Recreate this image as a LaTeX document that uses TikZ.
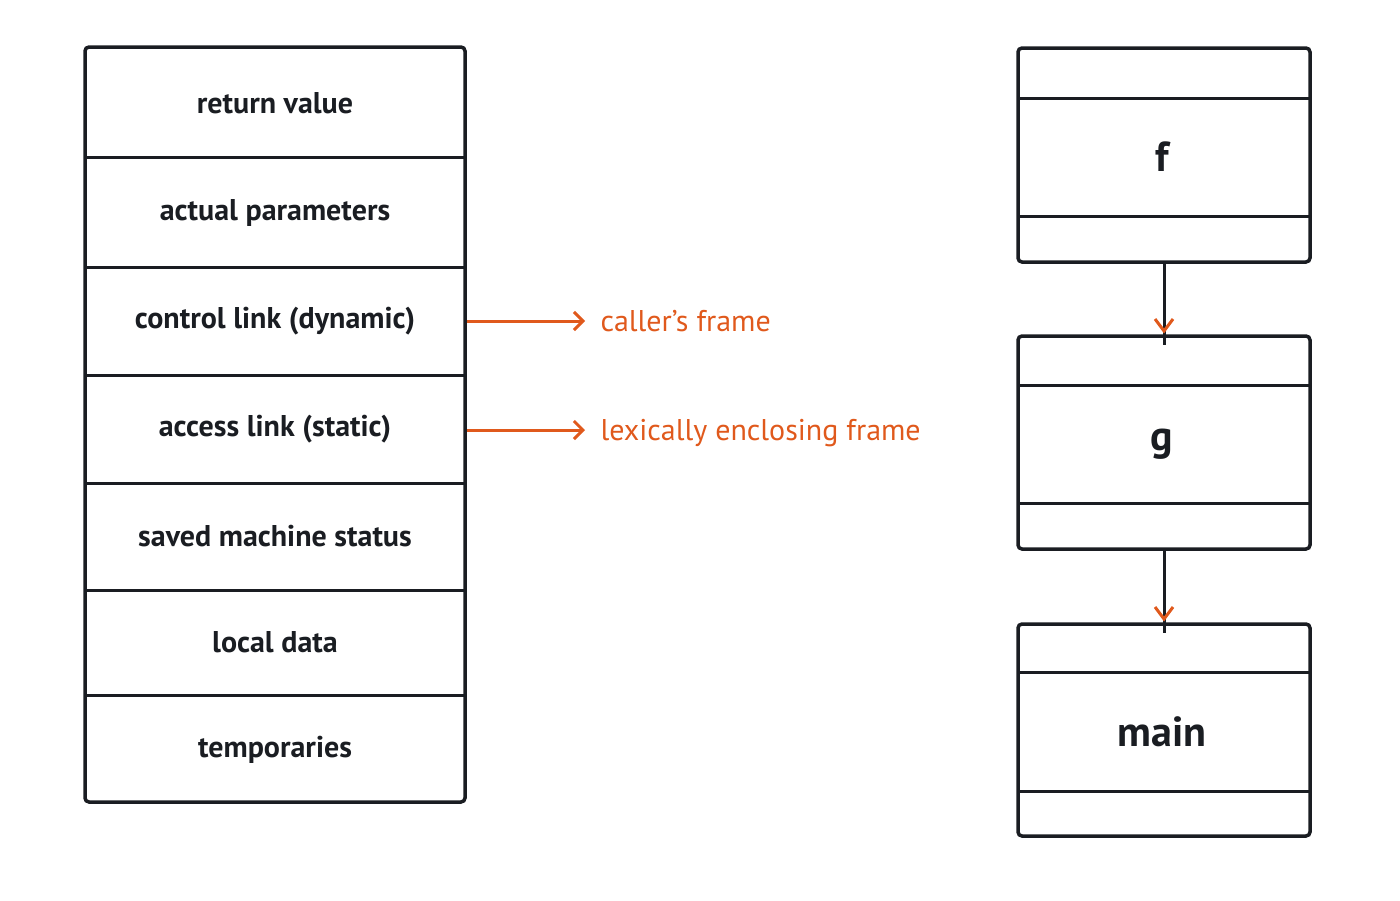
\documentclass[tikz,border=0pt]{standalone}
\usepackage{fontspec}
\setmainfont{PT Sans}
\usetikzlibrary{arrows.meta}
\definecolor{org}{HTML}{E0591C}
\definecolor{ink}{HTML}{1A1D22}
\begin{document}
\begin{tikzpicture}[x=1pt,y=-1pt,
  box/.style={draw=ink,line width=3.5pt,rounded corners=4pt},
  div/.style={draw=ink,line width=3pt},
  lab/.style={font=\fontsize{30}{34}\selectfont\bfseries,text=ink},
  olab/.style={font=\fontsize{30}{34}\selectfont,text=org,anchor=west},
  oarr/.style={draw=org,line width=3pt,-{Straight Barb[length=9pt,width=18pt,line width=3pt]}}]
\useasboundingbox (0,0) rectangle (1400,900);
% left stack
\draw[box] (85,47) rectangle (465,802);
\foreach \y in {157,267,375,483,590,695}{\draw[div] (86,\y) -- (464,\y);}
\node[lab] (rv) at (275,103) {return value};
\node[lab] (ap) at (275,213) {actual parameters};
\node[lab] (cl) at (275,321) {control link (dynamic)};
\node[lab] (al) at (275,429) {access link (static)};
\node[lab] (sm) at (275,536) {saved machine status};
\node[lab] (ld) at (275,642) {local data};
\node[lab] (tp) at (275,750) {temporaries};
\coordinate (c1) at (467,321); \coordinate (c2) at (585,321);
\coordinate (a1) at (467,430); \coordinate (a2) at (585,430);
\draw[oarr] (c1) -- (c2);
\draw[oarr] (a1) -- (a2);
\node[olab] (cf) at (597,321) {caller’s frame};
\node[olab] (lf) at (597,433) {lexically enclosing frame};
% right frames
\foreach \t/\a/\b/\c/\nm/\lb in {48/98/216/262/f/f, 336/385/503/549/g/g, 624/672/791/836/m/main}{
  \draw[box] (1018,\t) rectangle (1310,\c);
  \draw[div] (1019,\a) -- (1309,\a);
  \draw[div] (1019,\b) -- (1309,\b);
  \node[font=\fontsize{42}{46}\selectfont\bfseries,text=ink] (\nm) at (1162,{(\a+\b)/2}) {\lb};
  \coordinate (\nm top) at (1164,\t);
  \coordinate (\nm bot) at (1164,\c);
}
\draw[ink,line width=3pt] (fbot) -- ([yshift=-9pt]gtop);
\draw[ink,line width=3pt] (gbot) -- ([yshift=-9pt]mtop);
\draw[org,line width=3pt] (1155,319) -- (1164,331) -- (1173,319);
\draw[org,line width=3pt] (1155,607) -- (1164,619) -- (1173,607);
\end{tikzpicture}
\end{document}
